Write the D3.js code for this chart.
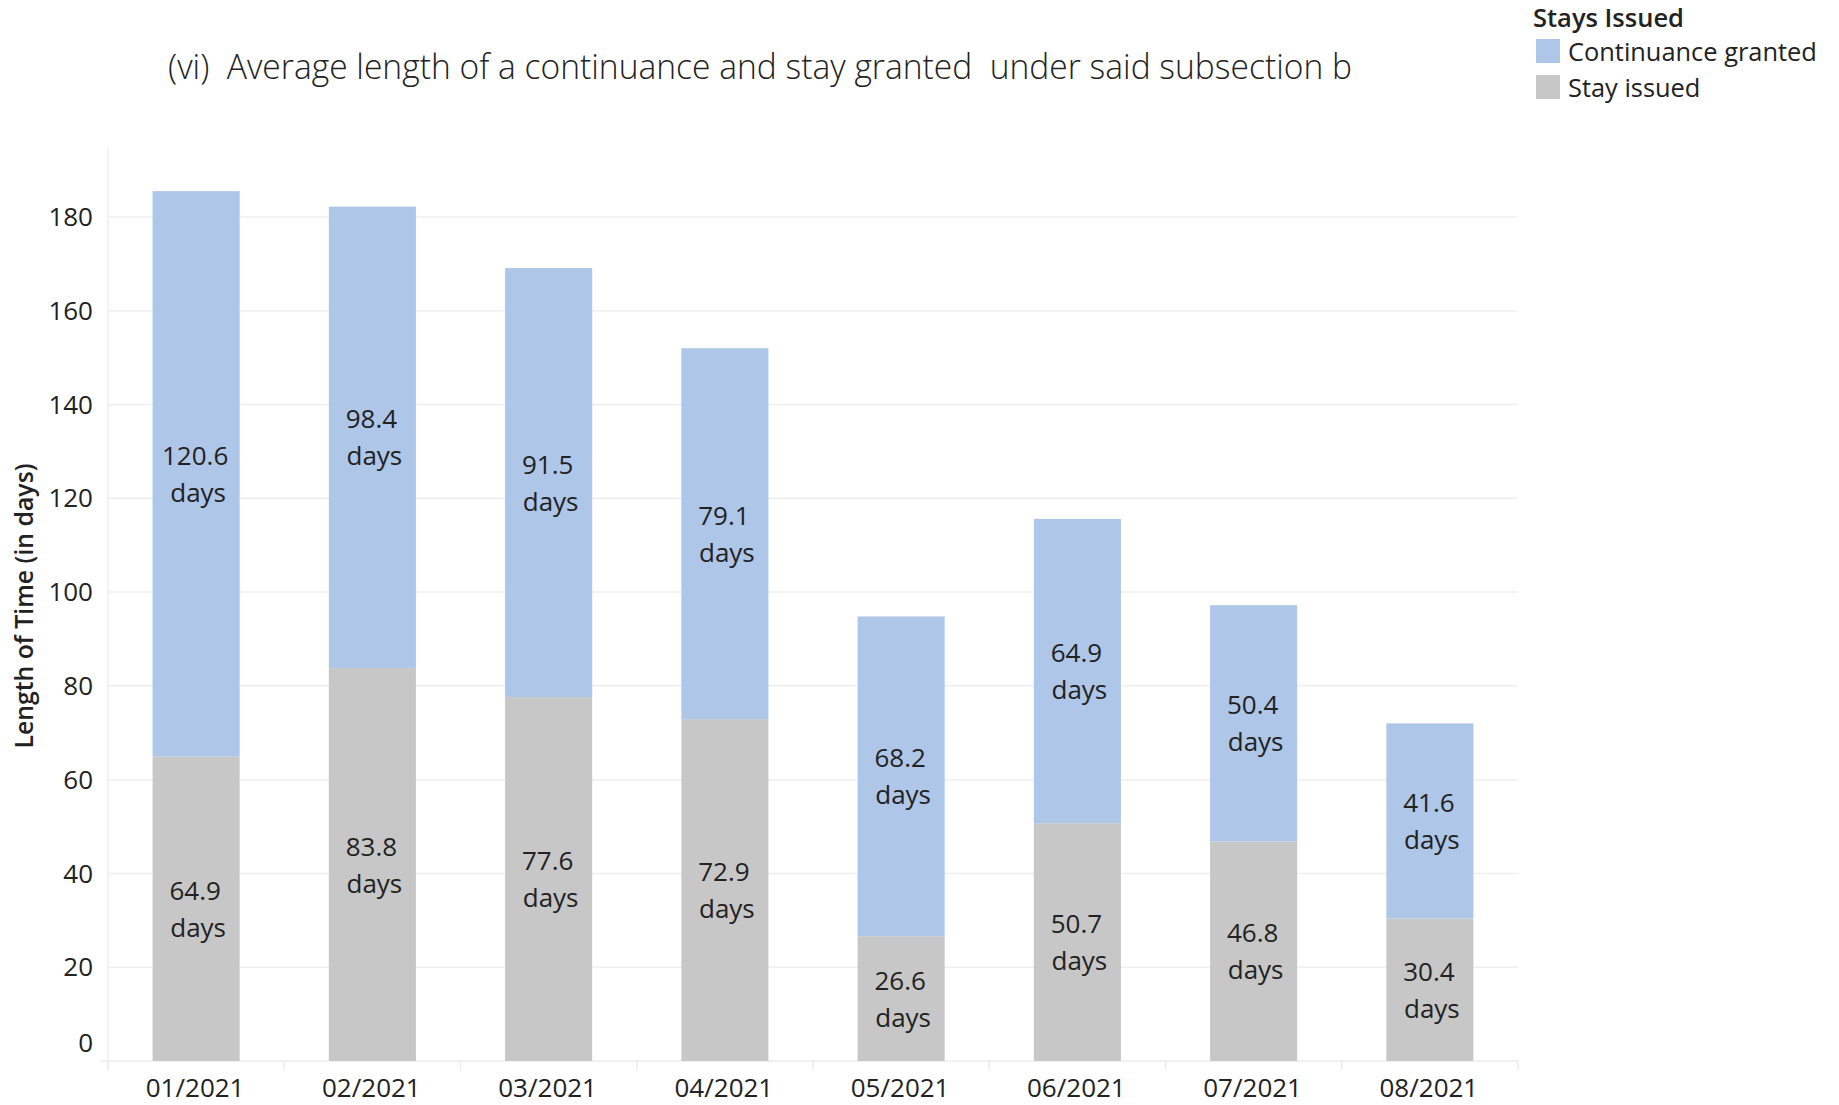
<!DOCTYPE html>
<html>
<head>
<meta charset="utf-8">
<script src="https://cdn.jsdelivr.net/npm/d3@7"></script>
<style>
  body { margin: 0; background: #fff; }
  text { font-family: "Open Sans", "Noto Sans", sans-serif; fill: #222; }
</style>
</head>
<body>
<svg id="chart" width="1839" height="1105"></svg>
<script>
// data
var months = ["01/2021", "02/2021", "03/2021", "04/2021", "05/2021", "06/2021", "07/2021", "08/2021"];
var stayIssued = [64.9, 83.8, 77.6, 72.9, 26.6, 50.7, 46.8, 30.4];
var continuanceGranted = [120.6, 98.4, 91.5, 79.1, 68.2, 64.9, 50.4, 41.6];
var yTicks = [0, 20, 40, 60, 80, 100, 120, 140, 160, 180];
var seriesNames = ["Stay issued", "Continuance granted"];
var legendOrder = ["Continuance granted", "Stay issued"];

(function () {
    var svg = d3.select("#chart"),
        plotLeft = 108, plotRight = 1518, plotTop = 148, plotBase = 1061;

    var color = d3.scaleOrdinal()
        .domain(seriesNames)
        .range(["#c7c7c7", "#aec6e8"]);

    var x = d3.scaleBand()
        .domain(months)
        .range([plotLeft, plotRight])
        .paddingInner(0.506)
        .paddingOuter(0.253);

    var y = d3.scaleLinear()
        .domain([0, 194.7])
        .range([plotBase, plotTop]);

    var table = months.map(function (m, i) {
        return { month: m, "Stay issued": stayIssued[i], "Continuance granted": continuanceGranted[i] };
    });
    var stacked = d3.stack().keys(seriesNames)(table);

    // grid
    var grid = svg.append("g").attr("class", "grid");
    grid.selectAll("line.ygrid")
        .data(yTicks.filter(function (d) { return d > 0; }))
        .enter().append("line")
        .attr("class", "ygrid")
        .attr("x1", plotLeft).attr("x2", plotRight)
        .attr("y1", function (d) { return y(d); })
        .attr("y2", function (d) { return y(d); })
        .attr("stroke", "#efefef").attr("stroke-width", 1.5);

    // left axis line and baseline
    grid.append("line")
        .attr("x1", plotLeft).attr("x2", plotLeft)
        .attr("y1", plotTop).attr("y2", plotBase + 9)
        .attr("stroke", "#efefef").attr("stroke-width", 1.5);
    grid.append("line")
        .attr("x1", plotLeft - 8).attr("x2", plotRight)
        .attr("y1", plotBase).attr("y2", plotBase)
        .attr("stroke", "#ececec").attr("stroke-width", 1.5);

    // band separators under the baseline
    var edges = months.map(function (m) { return x(m) - x.step() * x.paddingInner() / 2; });
    edges.push(plotRight);
    grid.selectAll("line.sep")
        .data(edges)
        .enter().append("line")
        .attr("class", "sep")
        .attr("x1", function (d) { return d; }).attr("x2", function (d) { return d; })
        .attr("y1", plotBase).attr("y2", plotBase + 9)
        .attr("stroke", "#ececec").attr("stroke-width", 1.5);

    // bars
    var layers = svg.append("g").selectAll("g.layer")
        .data(stacked)
        .enter().append("g")
        .attr("class", "layer")
        .attr("fill", function (d) { return color(d.key); });

    layers.selectAll("rect")
        .data(function (d) { return d; })
        .enter().append("rect")
        .attr("x", function (d) { return x(d.data.month); })
        .attr("width", x.bandwidth())
        .attr("y", function (d) { return y(d[1]); })
        .attr("height", function (d) { return y(d[0]) - y(d[1]); });

    // segment labels
    var labels = svg.append("g");
    stacked.forEach(function (layer) {
        labels.selectAll(null)
            .data(layer)
            .enter().append("text")
            .attr("text-anchor", "middle")
            .attr("font-size", 26)
            .attr("transform", function (d) {
                var cx = x(d.data.month) + x.bandwidth() / 2,
                    cy = y((d[0] + d[1]) / 2);
                return "translate(" + cx + "," + cy + ")";
            })
            .each(function (d) {
                var t = d3.select(this);
                t.append("tspan").attr("x", -1).attr("y", -9).text((d[1] - d[0]).toFixed(1));
                t.append("tspan").attr("x", 2).attr("y", 28).text("days");
            });
    });

    // y tick labels
    svg.append("g").selectAll("text")
        .data(yTicks)
        .enter().append("text")
        .attr("x", 93)
        .attr("y", function (d) { return d === 0 ? y(d) - 18 : y(d); })
        .attr("dy", "0.35em")
        .attr("text-anchor", "end")
        .attr("font-size", 26)
        .text(function (d) { return d; });

    // x tick labels
    svg.append("g").selectAll("text")
        .data(months)
        .enter().append("text")
        .attr("x", function (d) { return x(d) + x.bandwidth() / 2 - 1; })
        .attr("y", 1097)
        .attr("text-anchor", "middle")
        .attr("font-size", 26)
        .text(function (d) { return d; });

    // y axis title
    svg.append("text")
        .attr("transform", "translate(33,606) rotate(-90)")
        .attr("text-anchor", "middle")
        .attr("font-size", 24.8)
        .attr("font-weight", 600)
        .text("Length of Time (in days)");

    // chart title
    svg.append("text")
        .attr("x", 168)
        .attr("y", 79)
        .attr("font-size", 35)
        .attr("font-weight", 300)
        .attr("textLength", 1184)
        .attr("lengthAdjust", "spacingAndGlyphs")
        .style("white-space", "pre")
        .text("(vi)  Average length of a continuance and stay granted  under said subsection b");

    // legend
    var legend = svg.append("g");
    legend.append("text")
        .attr("x", 1533).attr("y", 27)
        .attr("font-size", 25.5)
        .attr("font-weight", 600)
        .text("Stays Issued");
    var items = legend.selectAll("g.item")
        .data(legendOrder)
        .enter().append("g")
        .attr("class", "item")
        .attr("transform", function (d, i) { return "translate(0," + (i * 36) + ")"; });
    items.append("rect")
        .attr("x", 1536).attr("y", 39)
        .attr("width", 24).attr("height", 24)
        .attr("fill", function (d) { return color(d); });
    items.append("text")
        .attr("x", 1568).attr("y", 61)
        .attr("font-size", 25.4)
        .text(function (d) { return d; });
})();
</script>
</body>
</html>
